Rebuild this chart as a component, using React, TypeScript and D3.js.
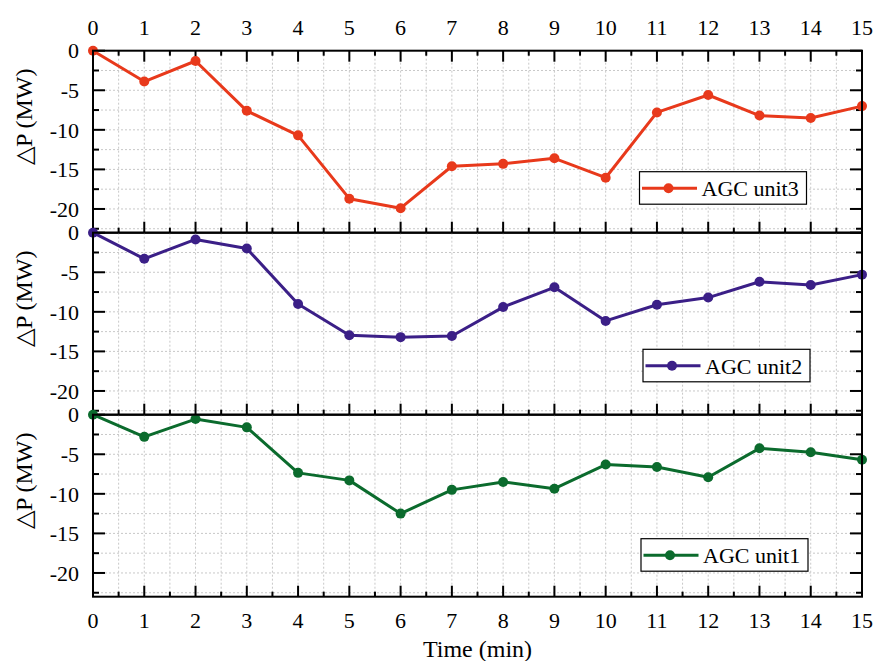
import React from 'react';
import * as d3 from 'd3';

const width = 875;
const height = 661;
const plotLeft = 93;
const plotRight = 862;
const panelTop = 50.7;
const panelHeight = 182;

// x categories (minutes)
const times = [0, 1, 2, 3, 4, 5, 6, 7, 8, 9, 10, 11, 12, 13, 14, 15];
const xTicks = [0, 1, 2, 3, 4, 5, 6, 7, 8, 9, 10, 11, 12, 13, 14, 15];
const yTicks = [0, -5, -10, -15, -20];
const yDomain = [-23, 0];

// series values (MW)
const unit3 = [0, -3.9, -1.3, -7.6, -10.7, -18.7, -19.9, -14.6, -14.3, -13.6, -16.05, -7.8, -5.6, -8.2, -8.5, -7.0];
const unit2 = [0, -3.3, -0.85, -2.0, -9.0, -12.95, -13.2, -13.05, -9.4, -6.9, -11.15, -9.1, -8.2, -6.2, -6.6, -5.3];
const unit1 = [0, -2.8, -0.55, -1.6, -7.35, -8.3, -12.5, -9.5, -8.5, -9.35, -6.3, -6.6, -7.9, -4.25, -4.75, -5.7];

const seriesNames = ['AGC unit3', 'AGC unit2', 'AGC unit1'];
const seriesValues = [unit3, unit2, unit1];
const seriesColors = ['#E8391B', '#3B1F87', '#0B6B2D'];
// legend box top-left, relative to each panel
const legendPos = [
  { x: 639.5, y: 121 },
  { x: 643, y: 116.6 },
  { x: 641, y: 124 },
];

const font = "'Liberation Serif', 'Times New Roman', Times, serif";

const Panel = ({ index }: { index: number }) => {
  const top = panelTop + index * panelHeight;
  const bottom = top + panelHeight;
  const x = d3.scaleLinear().domain([0, 15]).range([plotLeft, plotRight]);
  const y = d3.scaleLinear().domain(yDomain).range([bottom, top]);
  const values = seriesValues[index];
  const color = seriesColors[index];
  const line = d3.line<number>().x((_, i) => x(times[i])).y(d => y(d));

  const xMinor = d3.range(0, 15.01, 0.5);
  const yMinor = d3.range(0, -23, -2.5);
  const lg = legendPos[index];

  return (
    <g>
      {/* grid */}
      {xMinor.filter(t => t > 0 && t < 15).map(t => (
        <line key={'gx' + t} x1={x(t)} x2={x(t)} y1={top} y2={bottom}
          stroke="#c8c8c8" strokeWidth={1} strokeDasharray="2,2" />
      ))}
      {yMinor.filter(t => t < 0).map(t => (
        <line key={'gy' + t} x1={plotLeft} x2={plotRight} y1={y(t)} y2={y(t)}
          stroke="#c8c8c8" strokeWidth={1} strokeDasharray="2,2" />
      ))}

      {/* ticks on bottom (pointing up) and top of first panel */}
      {xMinor.filter(t => t > 0 && t < 15).map(t => {
        const major = Number.isInteger(t);
        const len = major ? 11 : 5;
        return (
          <g key={'tx' + t}>
            <line x1={x(t)} x2={x(t)} y1={bottom} y2={bottom - len} stroke="#000" strokeWidth={2} />
            {index === 0 && (
              <line x1={x(t)} x2={x(t)} y1={top} y2={top + len} stroke="#000" strokeWidth={2} />
            )}
          </g>
        );
      })}

      {/* y ticks left and right */}
      {yMinor.map(t => {
        const major = t % 5 === 0;
        const len = major ? 12 : 6;
        return (
          <g key={'ty' + t}>
            <line x1={plotLeft} x2={plotLeft + len} y1={y(t)} y2={y(t)} stroke="#000" strokeWidth={2} />
            <line x1={plotRight} x2={plotRight - len} y1={y(t)} y2={y(t)} stroke="#000" strokeWidth={2} />
          </g>
        );
      })}

      {/* y tick labels */}
      {yTicks.map(t => (
        <text key={'ly' + t} x={79} y={y(t)} dy="0.35em" textAnchor="end" fontSize={22}>{t}</text>
      ))}

      {/* y axis title */}
      <text transform={`translate(31.5, ${(top + bottom) / 2 - 25}) rotate(-90)`}
        textAnchor="middle" fontSize={24}>△P (MW)</text>

      {/* series */}
      <path d={line(values) || ''} fill="none" stroke={color} strokeWidth={3} strokeLinejoin="round" />
      {values.map((v, i) => (
        <circle key={'p' + i} cx={x(times[i])} cy={y(v)} r={5} fill={color} />
      ))}

      {/* frame */}
      <rect x={plotLeft} y={top} width={plotRight - plotLeft} height={panelHeight}
        fill="none" stroke="#000" strokeWidth={2} />

      {/* legend */}
      <g transform={`translate(${lg.x}, ${top + lg.y})`}>
        <rect x={0} y={0} width={167} height={32.5} fill="#fff" stroke="#000" strokeWidth={1.2} />
        <line x1={2.5} x2={57.5} y1={16.5} y2={16.5} stroke={color} strokeWidth={3} />
        <circle cx={29} cy={16.5} r={5} fill={color} />
        <text x={62} y={24.5} fontSize={22}>{seriesNames[index]}</text>
      </g>
    </g>
  );
};

const App = () => {
  const x = d3.scaleLinear().domain([0, 15]).range([plotLeft, plotRight]);
  const bottom = panelTop + 3 * panelHeight;
  return (
    <svg width={width} height={height}
      style={{ position: 'absolute', left: 0, top: 0, background: '#fff', fontFamily: font }}>
      {[0, 1, 2].map(i => <Panel key={i} index={i} />)}
      {xTicks.map(t => (
        <text key={'top' + t} x={x(t)} y={35} textAnchor="middle" fontSize={22}>{t}</text>
      ))}
      {xTicks.map(t => (
        <text key={'bot' + t} x={x(t)} y={bottom + 31} textAnchor="middle" fontSize={22}>{t}</text>
      ))}
      <text x={(plotLeft + plotRight) / 2} y={bottom + 60} textAnchor="middle" fontSize={24}>Time (min)</text>
    </svg>
  );
};

export default App;
